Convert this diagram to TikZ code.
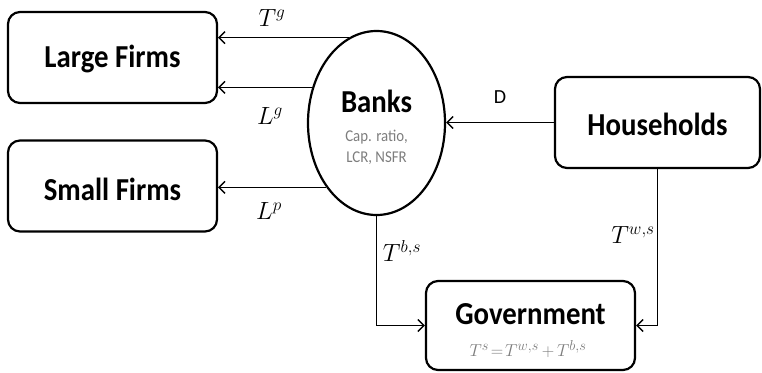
\documentclass[tikz,border=0pt]{standalone}
\usepackage{fontspec}
\setmainfont{Carlito}
\newfontfamily\condfont[FakeStretch=0.9]{Carlito}
\usetikzlibrary{arrows.meta,shapes.geometric}
\definecolor{subgray}{RGB}{125,125,125}
\begin{document}
\begin{tikzpicture}[x=1pt,y=-1pt,
  box/.style={draw,line width=2.2pt,rounded corners=12pt,inner sep=0pt},
  title/.style={font=\condfont\fontsize{32}{34}\selectfont\bfseries},
  sub/.style={font=\condfont\fontsize{16.5}{21}\selectfont,text=subgray,align=center},
  lab/.style={font=\fontsize{23}{26}\selectfont},
  conn/.style={line width=1.4pt,-{Straight Barb[length=6pt,width=12pt,line width=1.4pt]}}]
\useasboundingbox (0,0) rectangle (762,372);
% boxes
\node[box,minimum width=209pt,minimum height=91pt] (large) at (112.5,57.5) {};
\node[title] at (112.5,59) {Large Firms};
\node[box,minimum width=209pt,minimum height=91pt] (small) at (112.5,186) {};
\node[title] at (112.5,189) {Small Firms};
\node[box,minimum width=205pt,minimum height=91pt] (house) at (657.5,122.5) {};
\node[title] at (657.5,124) {Households};
\node[box,minimum width=209pt,minimum height=89pt] (gov) at (530.5,325.5) {};
\node[title] at (530.5,314) (govt) {Government};
\node[text=subgray,font=\fontsize{19}{21}\selectfont] (govf) at (528,349) {$T^{s}\mskip2mu{=}\mskip2mu T^{w,s}\mskip3mu{+}\mskip3mu T^{b,s}$};
\node[draw,ellipse,line width=2.2pt,minimum width=137pt,minimum height=184pt,inner sep=0pt] (banks) at (376.5,123) {};
\node[title] (bankst) at (376.5,101) {Banks};
\node[sub] (banksf) at (376.5,147) {Cap. ratio,\\LCR, NSFR};
% connectors
\draw[conn] (banks.108.4) -- (banks.108.4 -| large.east);
\draw[conn] (banks.151.1) -- (banks.151.1 -| large.east);
\draw[conn] (banks.232.4) -- (banks.232.4 -| small.east);
\draw[conn] (house.west) -- (house.west -| banks.east);
\draw[conn] (banks.south) |- (gov.west);
\draw[conn] (house.south) |- (gov.east);
% labels
\node[lab] (tg) at (272,18) {$T^{g}$};
\node[lab] (lg) at (270,116) {$L^{g}$};
\node[lab] (lp) at (269,211) {$L^{p}$};
\node[font=\fontsize{20}{22}\selectfont] (d) at (500,97) {D};
\node[lab] (tbs) at (402,251) {$T^{b,s}$};
\node[lab] (tws) at (633,235) {$T^{w,s}$};
\end{tikzpicture}
\end{document}
